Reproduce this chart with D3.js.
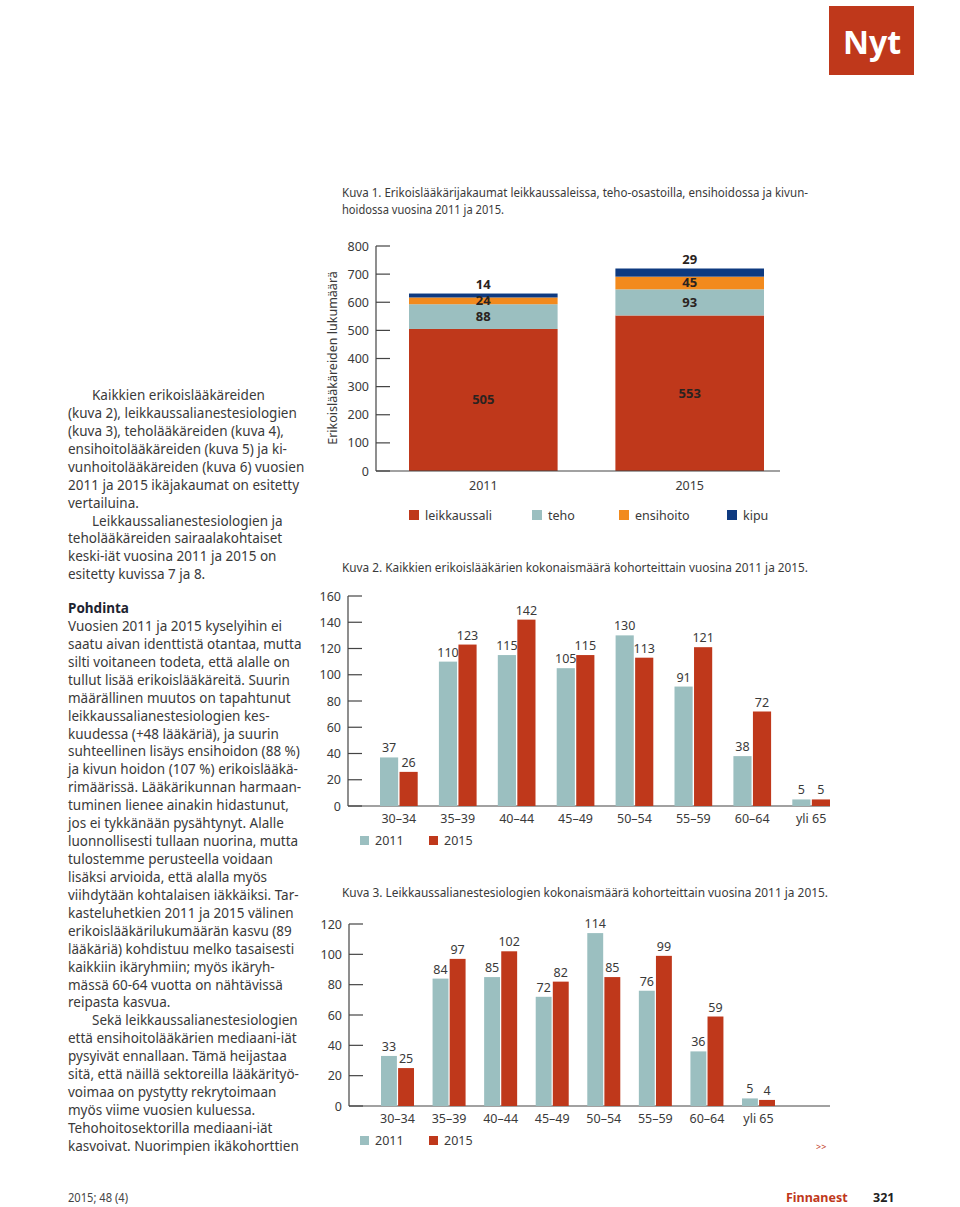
<!DOCTYPE html>
<html lang="fi">
<head>
    <meta charset="UTF-8">
    <title>Finnanest 2015; 48 (4) - s. 321</title>
    <style>
        body { margin: 0; background: #fff; }
        svg { display: block; }
        text { font-family: "Noto Sans", sans-serif; }
    </style>
</head>
<body>
    <svg id="page"></svg>

    <script src="https://d3js.org/d3.v7.min.js"></script>
    <script>
        // Kuva 1 data
        var years = ['2011', '2015'];
        var sectors = ['leikkaussali', 'teho', 'ensihoito', 'kipu'];
        var leikkaussali = [505, 553];
        var teho = [88, 93];
        var ensihoito = [24, 45];
        var kipu = [14, 29];
        var ticks1 = [0, 100, 200, 300, 400, 500, 600, 700, 800];

        // Kuva 2 and 3 data
        var cohorts = ['30–34', '35–39', '40–44', '45–49', '50–54', '55–59', '60–64', 'yli 65'];
        var all2011 = [37, 110, 115, 105, 130, 91, 38, 5];
        var all2015 = [26, 123, 142, 115, 113, 121, 72, 5];
        var anest2011 = [33, 84, 85, 72, 114, 76, 36, 5];
        var anest2015 = [25, 97, 102, 82, 85, 99, 59, 4];
        var ticks2 = [0, 20, 40, 60, 80, 100, 120, 140, 160];
        var ticks3 = [0, 20, 40, 60, 80, 100, 120];

        var colors = {
            leikkaussali: '#bf381b',
            teho: '#9bbfc0',
            ensihoito: '#f28a1d',
            kipu: '#0e3a80'
        };
        var textColor = '#3a3a3a';

        var svg = d3.select('#page')
            .attr('width', 960)
            .attr('height', 1207);

        // "Nyt" logo
        svg.append('rect')
            .attr('x', 829).attr('y', 6)
            .attr('width', 85).attr('height', 69)
            .attr('fill', colors.leikkaussali);
        svg.append('text')
            .attr('x', 872).attr('y', 54)
            .attr('text-anchor', 'middle')
            .attr('fill', '#fff')
            .style('font-size', '32px')
            .style('font-weight', 'bold')
            .text('Nyt');

        // Left column text
        var columnLines = [
            ['Kaikkien erikoislääkäreiden', true],
            ['(kuva 2), leikkaussalianestesiologien', false],
            ['(kuva 3), teholääkäreiden (kuva 4),', false],
            ['ensihoitolääkäreiden (kuva 5) ja ki-', false],
            ['vunhoitolääkäreiden (kuva 6) vuosien', false],
            ['2011 ja 2015 ikäjakaumat on esitetty', false],
            ['vertailuina.', false],
            ['Leikkaussalianestesiologien ja', true],
            ['teholääkäreiden sairaalakohtaiset', false],
            ['keski-iät vuosina 2011 ja 2015 on', false],
            ['esitetty kuvissa 7 ja 8.', false]
        ];
        var discussionLines = [
            ['Vuosien 2011 ja 2015 kyselyihin ei', false],
            ['saatu aivan identtistä otantaa, mutta', false],
            ['silti voitaneen todeta, että alalle on', false],
            ['tullut lisää erikoislääkäreitä. Suurin', false],
            ['määrällinen muutos on tapahtunut', false],
            ['leikkaussalianestesiologien kes-', false],
            ['kuudessa (+48 lääkäriä), ja suurin', false],
            ['suhteellinen lisäys ensihoidon (88 %)', false],
            ['ja kivun hoidon (107 %) erikoislääkä-', false],
            ['rimäärissä. Lääkärikunnan harmaan-', false],
            ['tuminen lienee ainakin hidastunut,', false],
            ['jos ei tykkänään pysähtynyt. Alalle', false],
            ['luonnollisesti tullaan nuorina, mutta', false],
            ['tulostemme perusteella voidaan', false],
            ['lisäksi arvioida, että alalla myös', false],
            ['viihdytään kohtalaisen iäkkäiksi. Tar-', false],
            ['kasteluhetkien 2011 ja 2015 välinen', false],
            ['erikoislääkärilukumäärän kasvu (89', false],
            ['lääkäriä) kohdistuu melko tasaisesti', false],
            ['kaikkiin ikäryhmiin; myös ikäryh-', false],
            ['mässä 60-64 vuotta on nähtävissä', false],
            ['reipasta kasvua.', false],
            ['Sekä leikkaussalianestesiologien', true],
            ['että ensihoitolääkärien mediaani-iät', false],
            ['pysyivät ennallaan. Tämä heijastaa', false],
            ['sitä, että näillä sektoreilla lääkärityö-', false],
            ['voimaa on pystytty rekrytoimaan', false],
            ['myös viime vuosien kuluessa.', false],
            ['Tehohoitosektorilla mediaani-iät', false],
            ['kasvoivat. Nuorimpien ikäkohorttien', false]
        ];

        var lineHeight = 17.93;
        var bodyText = svg.append('g')
            .attr('transform', 'translate(68,0)')
            .attr('fill', textColor)
            .style('font-size', '13.5px');

        bodyText.selectAll('.col')
            .data(columnLines)
            .enter().append('text')
            .attr('x', function(d) { return d[1] ? 24 : 0; })
            .attr('y', function(d, i) { return 400 + i * lineHeight; })
            .text(function(d) { return d[0]; });

        bodyText.append('text')
            .attr('x', 0).attr('y', 613)
            .attr('fill', '#1d2330')
            .style('font-weight', 'bold')
            .text('Pohdinta');

        bodyText.selectAll('.disc')
            .data(discussionLines)
            .enter().append('text')
            .attr('x', function(d) { return d[1] ? 24 : 0; })
            .attr('y', function(d, i) { return 613 + (i + 1) * lineHeight; })
            .text(function(d) { return d[0]; });

        // Captions
        var captionWidths = [466, 162, 466, 486];
        var captionIndex = 0;
        function caption(lines, x, y, step) {
            var g = svg.append('g')
                .attr('fill', textColor)
                .style('font-size', '12.5px');
            lines.forEach(function(line, i) {
                g.append('text')
                    .attr('x', x)
                    .attr('y', y + i * step)
                    .attr('textLength', captionWidths[captionIndex++])
                    .attr('lengthAdjust', 'spacingAndGlyphs')
                    .text(line);
            });
        }
        caption(['Kuva 1. Erikoislääkärijakaumat leikkaussaleissa, teho-osastoilla, ensihoidossa ja kivun-',
                 'hoidossa vuosina 2011 ja 2015.'], 342, 197, 17);
        caption(['Kuva 2. Kaikkien erikoislääkärien kokonaismäärä kohorteittain vuosina 2011 ja 2015.'], 342, 572, 0);
        caption(['Kuva 3. Leikkaussalianestesiologien kokonaismäärä kohorteittain vuosina 2011 ja 2015.'], 342, 897, 0);

        // Shared y-axis drawing (vertical line plus right-pointing ticks)
        function drawYAxis(g, y, ticks, x0, xEnd) {
            g.append('line')
                .attr('x1', x0).attr('x2', x0)
                .attr('y1', y(ticks[0])).attr('y2', y(ticks[ticks.length - 1]))
                .attr('stroke', '#444').attr('stroke-width', 1.2);
            g.selectAll('.tick')
                .data(ticks)
                .enter().append('line')
                .attr('x1', x0).attr('x2', x0 + 14)
                .attr('y1', function(d) { return y(d); })
                .attr('y2', function(d) { return y(d); })
                .attr('stroke', '#444').attr('stroke-width', 1.2);
            g.selectAll('.ticklabel')
                .data(ticks)
                .enter().append('text')
                .attr('x', x0 - 7)
                .attr('y', function(d) { return y(d) + 4.5; })
                .attr('text-anchor', 'end')
                .attr('fill', textColor)
                .style('font-size', '12.5px')
                .text(function(d) { return d; });
            g.append('line')
                .attr('x1', x0).attr('x2', xEnd)
                .attr('y1', y(0)).attr('y2', y(0))
                .attr('stroke', '#444').attr('stroke-width', 1.2);
        }

        // ---- Kuva 1: stacked bars ----
        var chart1 = svg.append('g');
        var y1 = d3.scaleLinear().domain([0, 800]).range([471, 246]);
        var x1 = d3.scaleBand().domain(years).range([409, 764]).paddingInner(0.28);

        var stackRows = years.map(function(year, i) {
            return { year: year, leikkaussali: leikkaussali[i], teho: teho[i], ensihoito: ensihoito[i], kipu: kipu[i] };
        });
        var stacked = d3.stack().keys(sectors)(stackRows);

        chart1.selectAll('.layer')
            .data(stacked)
            .enter().append('g')
            .attr('fill', function(d) { return colors[d.key]; })
            .selectAll('rect')
            .data(function(d) { return d; })
            .enter().append('rect')
            .attr('x', function(d) { return x1(d.data.year); })
            .attr('width', x1.bandwidth())
            .attr('y', function(d) { return y1(d[1]); })
            .attr('height', function(d) { return y1(d[0]) - y1(d[1]); });

        drawYAxis(chart1, y1, ticks1, 376, 780);

        // segment labels; the top (kipu) value sits above the bar
        stacked.forEach(function(layer) {
            layer.forEach(function(d) {
                var value = d[1] - d[0];
                var cy = layer.key === 'kipu' ? y1(d[1]) - 5 : (y1(d[0]) + y1(d[1])) / 2 + 4.5;
                chart1.append('text')
                    .attr('x', x1(d.data.year) + x1.bandwidth() / 2)
                    .attr('y', cy)
                    .attr('text-anchor', 'middle')
                    .attr('fill', '#2a2320')
                    .style('font-size', '13px')
                    .style('font-weight', 'bold')
                    .text(value);
            });
        });

        chart1.selectAll('.year')
            .data(years)
            .enter().append('text')
            .attr('x', function(d) { return x1(d) + x1.bandwidth() / 2; })
            .attr('y', 490)
            .attr('text-anchor', 'middle')
            .attr('fill', textColor)
            .style('font-size', '12.5px')
            .text(function(d) { return d; });

        var legend1X = [409, 532, 619, 727];
        var legend1 = chart1.selectAll('.legend')
            .data(sectors)
            .enter().append('g')
            .attr('transform', function(d, i) { return 'translate(' + legend1X[i] + ',510)'; });
        legend1.append('rect')
            .attr('width', 10).attr('height', 10)
            .attr('fill', function(d) { return colors[d]; });
        legend1.append('text')
            .attr('x', 16).attr('y', 9.5)
            .attr('fill', textColor)
            .style('font-size', '12.5px')
            .text(function(d) { return d; });

        chart1.append('text')
            .attr('transform', 'translate(337,358) rotate(-90)')
            .attr('text-anchor', 'middle')
            .attr('fill', textColor)
            .style('font-size', '12.5px')
            .text('Erikoislääkäreiden lukumäärä');

        // ---- Grouped bar charts (Kuva 2, Kuva 3) ----
        function groupedChart(opts) {
            var g = svg.append('g');
            var y = d3.scaleLinear().domain([0, opts.ticks[opts.ticks.length - 1]]).range([opts.y0, opts.yTop]);
            var x = d3.scaleBand().domain(cohorts).range(opts.xRange).paddingInner(0.36);
            var xi = d3.scaleBand().domain(years).range([0, x.bandwidth()]).paddingInner(0.07);
            var series = [opts.v2011, opts.v2015];
            var fills = [colors.teho, colors.leikkaussali];

            drawYAxis(g, y, opts.ticks, opts.axisX, 830);

            years.forEach(function(year, s) {
                g.selectAll('.bar' + year)
                    .data(series[s])
                    .enter().append('rect')
                    .attr('x', function(d, i) { return x(cohorts[i]) + xi(year); })
                    .attr('width', xi.bandwidth())
                    .attr('y', function(d) { return y(d); })
                    .attr('height', function(d) { return y(0) - y(d); })
                    .attr('fill', fills[s]);
                g.selectAll('.val' + year)
                    .data(series[s])
                    .enter().append('text')
                    .attr('x', function(d, i) { return x(cohorts[i]) + xi(year) + xi.bandwidth() / 2; })
                    .attr('y', function(d) { return y(d) - 5; })
                    .attr('text-anchor', 'middle')
                    .attr('fill', textColor)
                    .style('font-size', '12.5px')
                    .text(function(d) { return d; });
            });

            g.selectAll('.cat')
                .data(cohorts)
                .enter().append('text')
                .attr('x', function(d) { return x(d) + x.bandwidth() / 2; })
                .attr('y', opts.y0 + 17)
                .attr('text-anchor', 'middle')
                .attr('fill', textColor)
                .style('font-size', '12.5px')
                .text(function(d) { return d; });

            var lx = [360, 429];
            var lg = g.selectAll('.legend')
                .data(years)
                .enter().append('g')
                .attr('transform', function(d, i) { return 'translate(' + lx[i] + ',' + (opts.y0 + 30) + ')'; });
            lg.append('rect')
                .attr('width', 9).attr('height', 9)
                .attr('fill', function(d, i) { return fills[i]; });
            lg.append('text')
                .attr('x', 15).attr('y', 9)
                .attr('fill', textColor)
                .style('font-size', '12.5px')
                .text(function(d) { return d; });
        }

        groupedChart({ v2011: all2011, v2015: all2015, ticks: ticks2, y0: 806, yTop: 596, axisX: 348, xRange: [380, 830] });
        groupedChart({ v2011: anest2011, v2015: anest2015, ticks: ticks3, y0: 1106, yTop: 924, axisX: 349, xRange: [381, 775] });

        svg.append('text')
            .attr('x', 816).attr('y', 1150)
            .attr('fill', colors.leikkaussali)
            .style('font-size', '9px')
            .text('>>');

        // Footer
        svg.append('text')
            .attr('x', 68).attr('y', 1202)
            .attr('fill', '#444')
            .style('font-size', '13px')
            .attr('textLength', 60).attr('lengthAdjust', 'spacingAndGlyphs')
            .text('2015; 48 (4)');
        svg.append('text')
            .attr('x', 786).attr('y', 1202)
            .attr('fill', colors.leikkaussali)
            .style('font-size', '12.5px')
            .style('font-weight', 'bold')
            .text('Finnanest');
        svg.append('text')
            .attr('x', 873).attr('y', 1202)
            .attr('fill', '#222')
            .style('font-size', '12.5px')
            .style('font-weight', 'bold')
            .text('321');
    </script>
</body>
</html>
